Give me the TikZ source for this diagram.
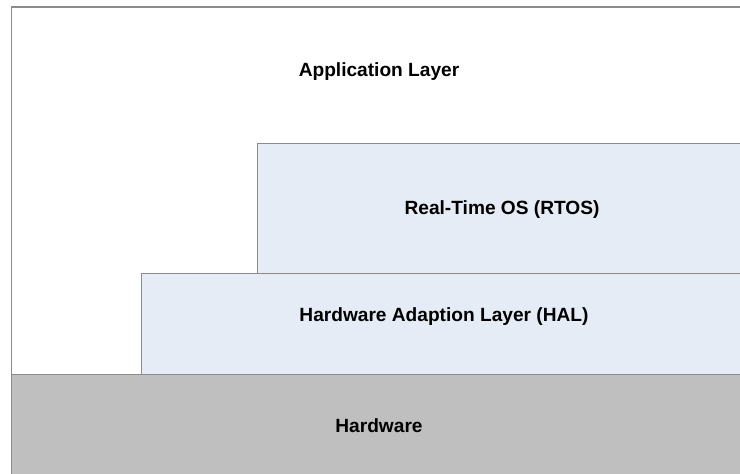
\documentclass[tikz,border=0pt]{standalone}
\usepackage{fontspec}
\setmainfont{Liberation Sans}
\usetikzlibrary{positioning}

\definecolor{layerblue}{HTML}{E6ECF6}
\definecolor{hwgray}{HTML}{BFBFBF}
\definecolor{edgegray}{HTML}{8C8C8C}

\tikzset{
  layerbox/.style={draw=edgegray, line width=1.3bp, rectangle, anchor=north west, inner sep=0pt},
  layertext/.style={font=\fontsize{19.2}{22}\selectfont\bfseries, inner sep=0pt}
}

\begin{document}
\begin{tikzpicture}[x=1bp, y=-1bp, line join=miter]

% ----------------------------
% CANVAS (reference size, boxes run off the right and bottom)
% ----------------------------
\useasboundingbox (0,0) rectangle (740,474);
\clip (0,0) rectangle (740,474);
\fill[white] (0,0) rectangle (740,474);

% ----------------------------
% LAYERS (back to front), right edge at 747
% ----------------------------
\node[layerbox, fill=white, minimum width=736bp, minimum height=400bp] (app) at (11,6.5) {};
\node[layerbox, fill=layerblue, minimum width=490bp, minimum height=130bp] (rtos) at (257,143) {};
\node[layerbox, fill=layerblue, minimum width=606bp, minimum height=101bp] (hal) at (141,273) {};
\node[layerbox, fill=hwgray, minimum width=736bp, minimum height=120bp] (hw) at (11,374) {};

% ----------------------------
% LABELS
% ----------------------------
\node[layertext] (appText)  at (379,72)  {Application Layer};
\node[layertext] (rtosText) at (502,210) {Real-Time OS (RTOS)};
\node[layertext] (halText)  at (444,317) {Hardware Adaption Layer (HAL)};
\node[layertext] (hwText)   at (379,426) {Hardware};

\end{tikzpicture}
\end{document}
